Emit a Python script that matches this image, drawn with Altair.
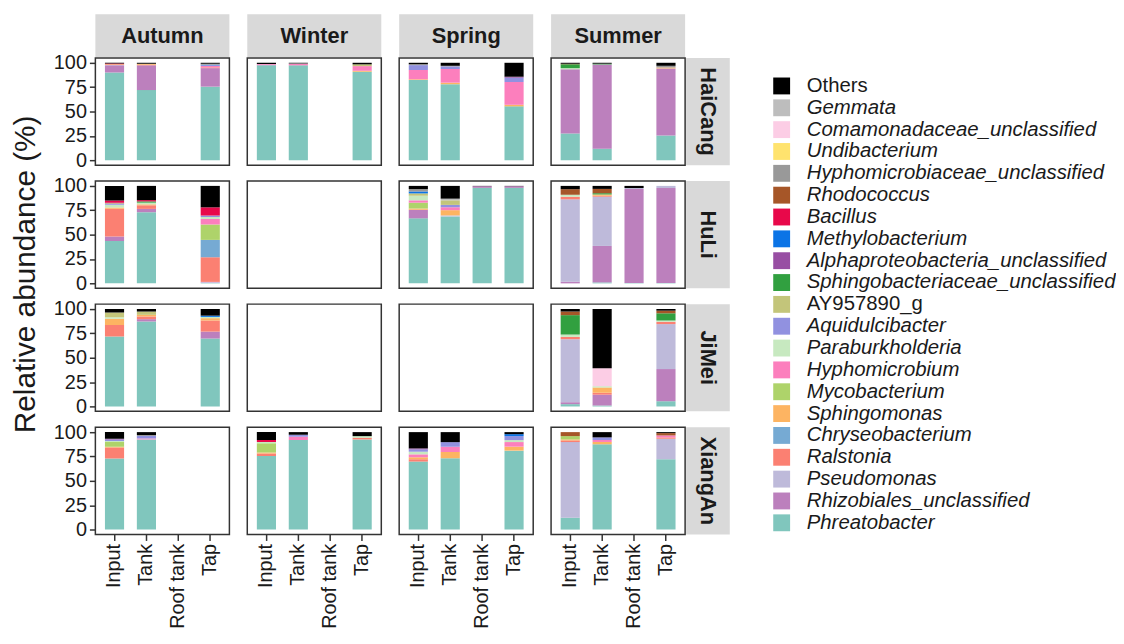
import altair as alt
import pandas as pd

FONT = "Liberation Sans"

# Legend order (top to bottom); stacking goes the other way (Phreatobacter at the bottom)
GENERA = ["Others", "Gemmata", "Comamonadaceae_unclassified", "Undibacterium",
          "Hyphomicrobiaceae_unclassified", "Rhodococcus", "Bacillus", "Methylobacterium",
          "Alphaproteobacteria_unclassified", "Sphingobacteriaceae_unclassified", "AY957890_g",
          "Aquidulcibacter", "Paraburkholderia", "Hyphomicrobium", "Mycobacterium",
          "Sphingomonas", "Chryseobacterium", "Ralstonia", "Pseudomonas",
          "Rhizobiales_unclassified", "Phreatobacter"]
COLORS = ["#000000", "#BDBDBD", "#FCCDE5", "#FFE36E", "#999999", "#A65628", "#E8084A",
          "#0B74E6", "#984EA3", "#31A040", "#C3C57A", "#9191E0", "#C7E9C0", "#FC7FBD",
          "#AED36A", "#FDB462", "#76AAD3", "#FB8072", "#BEBADA", "#BC80BD", "#80C6BD"]
CODES = {"Oth": "Others", "Gem": "Gemmata", "Com": "Comamonadaceae_unclassified",
         "Und": "Undibacterium", "Hyc": "Hyphomicrobiaceae_unclassified", "Rho": "Rhodococcus",
         "Bac": "Bacillus", "Met": "Methylobacterium", "Alp": "Alphaproteobacteria_unclassified",
         "Sph": "Sphingobacteriaceae_unclassified", "AY": "AY957890_g", "Aqu": "Aquidulcibacter",
         "Par": "Paraburkholderia", "Hyp": "Hyphomicrobium", "Myc": "Mycobacterium",
         "Sgm": "Sphingomonas", "Chr": "Chryseobacterium", "Ral": "Ralstonia",
         "Pse": "Pseudomonas", "Rhz": "Rhizobiales_unclassified", "Phr": "Phreatobacter"}
NON_ITALIC = ["Others", "AY957890_g"]

SEASONS = ["Autumn", "Winter", "Spring", "Summer"]
SITES = ["HaiCang", "HuLi", "JiMei", "XiangAn"]
SAMPLES = ["Input", "Tank", "Roof tank", "Tap"]

# Relative abundance (%) per sample
HAICANG_AUTUMN = {
    "Input": {"Phr": 90.0, "Rhz": 7.5, "Pse": 0.3, "Ral": 0.7, "Sgm": 0.3, "Bac": 0.4, "Oth": 0.8},
    "Tank": {"Phr": 72.0, "Rhz": 25.4, "Ral": 0.6, "Sgm": 1.0, "Oth": 1.0},
    "Tap": {"Phr": 75.5, "Rhz": 19.0, "Ral": 0.8, "Hyp": 1.4, "Aqu": 0.8, "Met": 0.5, "Hyc": 1.0, "Oth": 1.0},
}
HAICANG_WINTER = {
    "Input": {"Phr": 97.5, "Rhz": 0.6, "Hyp": 0.7, "Oth": 1.2},
    "Tank": {"Phr": 97.4, "Hyp": 1.5, "Hyc": 0.5, "Oth": 0.6},
    "Tap": {"Phr": 90.8, "Sgm": 1.0, "Hyp": 4.8, "AY": 1.8, "Oth": 1.6},
}
HAICANG_SPRING = {
    "Input": {"Phr": 82.4, "Sgm": 0.7, "Hyp": 9.5, "Aqu": 5.0, "Hyc": 1.0, "Oth": 1.4},
    "Tank": {"Phr": 78.0, "Sgm": 1.6, "Hyp": 14.0, "Aqu": 2.7, "Hyc": 0.6, "Oth": 3.1},
    "Tap": {"Phr": 55.3, "Sgm": 1.6, "Hyp": 23.4, "Aqu": 4.4, "Alp": 1.0, "Oth": 14.3},
}
HAICANG_SUMMER = {
    "Input": {"Phr": 27.5, "Rhz": 65.8, "Par": 1.2, "Sph": 4.0, "Rho": 0.5, "Oth": 1.0},
    "Tank": {"Phr": 11.9, "Rhz": 86.4, "Sph": 0.8, "Oth": 0.9},
    "Tap": {"Phr": 25.4, "Rhz": 68.8, "Sgm": 1.0, "Hyc": 1.7, "Oth": 3.1},
}
HULI_AUTUMN = {
    "Input": {"Phr": 43.4, "Rhz": 4.7, "Ral": 28.5, "Sgm": 1.3, "Par": 2.7, "Aqu": 0.8, "AY": 0.8,
              "Alp": 0.5, "Bac": 2.2, "Oth": 15.1},
    "Tank": {"Phr": 73.0, "Rhz": 3.4, "Ral": 3.7, "Sgm": 1.0, "Par": 1.7, "Sph": 1.3, "Bac": 1.3, "Oth": 14.6},
    "Tap": {"Phr": 0.5, "Rhz": 0.5, "Pse": 0.5, "Ral": 25.3, "Chr": 17.8, "Myc": 15.8, "Hyp": 5.7,
            "Par": 2.0, "Aqu": 1.5, "Bac": 8.4, "Oth": 22.0},
}
HULI_WINTER = {}
HULI_SPRING = {
    "Input": {"Phr": 66.7, "Rhz": 8.8, "Sgm": 1.3, "Myc": 6.0, "Hyp": 2.4, "Par": 4.7, "AY": 2.4,
              "Met": 2.0, "Hyc": 2.4, "Oth": 3.3},
    "Tank": {"Phr": 68.7, "Pse": 1.0, "Sgm": 5.4, "Hyp": 3.0, "Aqu": 2.4, "AY": 4.7, "Gem": 1.7, "Oth": 13.1},
    "Roof tank": {"Phr": 98.0, "Rhz": 1.7, "Oth": 0.3},
    "Tap": {"Phr": 98.0, "Rhz": 1.7, "Oth": 0.3},
}
HULI_SUMMER = {
    "Input": {"Rhz": 1.7, "Pse": 84.5, "Ral": 2.7, "Par": 2.0, "Rho": 5.7, "Oth": 3.4},
    "Tank": {"Phr": 1.0, "Rhz": 37.4, "Pse": 50.5, "Ral": 1.0, "Sgm": 1.3, "Sph": 1.3, "Rho": 4.4, "Oth": 3.1},
    "Roof tank": {"Phr": 0.5, "Rhz": 96.3, "Pse": 1.0, "Oth": 2.2},
    "Tap": {"Phr": 0.5, "Rhz": 97.3, "Pse": 2.2},
}
JIMEI_AUTUMN = {
    "Input": {"Phr": 71.7, "Ral": 11.8, "Sgm": 6.4, "Par": 1.7, "AY": 4.7, "Oth": 3.7},
    "Tank": {"Phr": 87.2, "Rhz": 2.4, "Ral": 2.7, "Sgm": 1.7, "AY": 3.4, "Oth": 2.6},
    "Tap": {"Phr": 69.7, "Rhz": 7.1, "Ral": 11.4, "Sgm": 2.4, "Par": 1.3, "Met": 1.3, "Oth": 6.8},
}
JIMEI_WINTER = {}
JIMEI_SPRING = {}
JIMEI_SUMMER = {
    "Input": {"Phr": 2.4, "Rhz": 2.0, "Pse": 64.6, "Ral": 2.4, "Par": 2.4, "Sph": 19.9, "Rho": 3.7, "Oth": 2.6},
    "Tank": {"Phr": 1.0, "Rhz": 11.1, "Ral": 2.0, "Sgm": 5.4, "Par": 1.3, "Com": 18.5, "Oth": 60.7},
    "Tap": {"Phr": 5.4, "Rhz": 33.0, "Pse": 46.1, "Ral": 2.4, "Par": 1.3, "Sph": 7.4, "Rho": 2.7, "Oth": 1.7},
}
XIANGAN_AUTUMN = {
    "Input": {"Phr": 72.9, "Ral": 11.2, "Sgm": 1.0, "Myc": 4.7, "Par": 1.0, "Aqu": 1.7, "Alp": 0.7, "Oth": 6.8},
    "Tank": {"Phr": 92.5, "Hyp": 1.0, "Aqu": 2.7, "Hyc": 0.7, "Oth": 3.1},
}
XIANGAN_WINTER = {
    "Input": {"Phr": 75.6, "Ral": 2.4, "Sgm": 1.0, "Myc": 9.5, "Par": 1.3, "Bac": 2.0, "Oth": 8.2},
    "Tank": {"Phr": 91.9, "Hyp": 3.4, "Aqu": 2.0, "Oth": 2.7},
    "Tap": {"Phr": 92.5, "Ral": 1.7, "Par": 1.7, "Oth": 4.1},
}
XIANGAN_SPRING = {
    "Input": {"Phr": 69.8, "Ral": 2.4, "Sgm": 2.0, "Hyp": 3.0, "Par": 2.7, "Aqu": 2.4, "Alp": 1.0, "Oth": 16.7},
    "Tank": {"Phr": 73.2, "Sgm": 6.4, "Hyp": 5.4, "Aqu": 4.7, "Oth": 10.3},
    "Tap": {"Phr": 81.0, "Sgm": 4.1, "Hyp": 4.7, "Par": 2.0, "Aqu": 4.1, "Met": 2.0, "Oth": 2.1},
}
XIANGAN_SUMMER = {
    "Input": {"Phr": 12.2, "Pse": 77.6, "Ral": 1.7, "Sgm": 1.0, "Myc": 3.4, "Rho": 4.1},
    "Tank": {"Phr": 87.5, "Sgm": 2.4, "Hyp": 2.0, "Aqu": 2.7, "Oth": 5.4},
    "Tap": {"Phr": 72.2, "Pse": 21.0, "Ral": 1.4, "Hyp": 2.0, "Rho": 2.4, "Oth": 1.0},
}

PANELS = [
    ("HaiCang", "Autumn", HAICANG_AUTUMN), ("HaiCang", "Winter", HAICANG_WINTER),
    ("HaiCang", "Spring", HAICANG_SPRING), ("HaiCang", "Summer", HAICANG_SUMMER),
    ("HuLi", "Autumn", HULI_AUTUMN), ("HuLi", "Winter", HULI_WINTER),
    ("HuLi", "Spring", HULI_SPRING), ("HuLi", "Summer", HULI_SUMMER),
    ("JiMei", "Autumn", JIMEI_AUTUMN), ("JiMei", "Winter", JIMEI_WINTER),
    ("JiMei", "Spring", JIMEI_SPRING), ("JiMei", "Summer", JIMEI_SUMMER),
    ("XiangAn", "Autumn", XIANGAN_AUTUMN), ("XiangAn", "Winter", XIANGAN_WINTER),
    ("XiangAn", "Spring", XIANGAN_SPRING), ("XiangAn", "Summer", XIANGAN_SUMMER),
]

rows = []
for site, season, panel in PANELS:
    if not panel:  # empty panel: keep the facet cell with a zero-height bar
        rows.append(dict(site=site, season=season, sample="Input", genus="Phreatobacter", value=0.0))
    for sample, comp in panel.items():
        for code, v in comp.items():
            rows.append(dict(site=site, season=season, sample=sample, genus=CODES[code], value=v))
df = pd.DataFrame(rows)
df["stack_idx"] = df["genus"].map(lambda g: len(GENERA) - 1 - GENERA.index(g))

W, H = 135, 108
STRIP = "#D9D9D9"
TXT = "#1A1A1A"

italic_expr = "indexof(" + str(NON_ITALIC) + ", datum.label) >= 0 ? 'normal' : 'italic'"

bars = alt.Chart().mark_bar().encode(
    x=alt.X("sample:N", sort=SAMPLES,
            scale=alt.Scale(domain=SAMPLES, paddingInner=0.4, paddingOuter=0.3),
            axis=alt.Axis(title=None, labelAngle=270, labelAlign="right", labelBaseline="middle")),
    y=alt.Y("value:Q", stack="zero",
            scale=alt.Scale(domain=[-5, 105], nice=False, zero=False),
            axis=alt.Axis(title=None, values=[0, 25, 50, 75, 100], grid=False)),
    color=alt.Color("genus:N", scale=alt.Scale(domain=GENERA, range=COLORS),
                    legend=alt.Legend(title=None, orient="none", legendX=681, legendY=18, padding=0,
                                      symbolType="square", symbolSize=289, symbolStrokeWidth=0,
                                      labelFont=FONT, labelFontSize=20.5, labelColor=TXT,
                                      labelFontStyle={"expr": italic_expr},
                                      labelOffset=15, rowPadding=1.0, symbolLimit=0, labelLimit=500)),
    order=alt.Order("stack_idx:Q", sort="ascending"),
)

top_rect = alt.Chart().transform_filter(alt.datum.site == SITES[0]).transform_aggregate(
    n="count()", groupby=["site", "season"]
).mark_rect(color=STRIP).encode(x=alt.value(0), x2=alt.value(W), y=alt.value(-44), y2=alt.value(-1))

top_text = alt.Chart().transform_filter(alt.datum.site == SITES[0]).transform_aggregate(
    n="count()", groupby=["site", "season"]
).mark_text(font=FONT, fontSize=22, fontWeight="bold", color=TXT).encode(
    text="season:N", x=alt.value(W / 2), y=alt.value(-22))

right_rect = alt.Chart().transform_filter(alt.datum.season == SEASONS[-1]).transform_aggregate(
    n="count()", groupby=["site", "season"]
).mark_rect(color=STRIP).encode(x=alt.value(W + 1), x2=alt.value(W + 45), y=alt.value(0), y2=alt.value(H))

right_text = alt.Chart().transform_filter(alt.datum.season == SEASONS[-1]).transform_aggregate(
    n="count()", groupby=["site", "season"]
).mark_text(font=FONT, fontSize=22, fontWeight="bold", color=TXT, angle=90).encode(
    text="site:N", x=alt.value(W + 23), y=alt.value(H / 2))

layered = alt.layer(bars, top_rect, top_text, right_rect, right_text, data=df).properties(width=W, height=H)

chart = layered.facet(
    row=alt.Row("site:N", sort=SITES,
                header=alt.Header(labels=False, title="Relative abundance (%)", titleOrient="left",
                                  titleFont=FONT, titleFontSize=30, titleFontWeight="normal",
                                  titleColor=TXT, titlePadding=2)),
    column=alt.Column("season:N", sort=SEASONS, header=alt.Header(labels=False, title=None)),
    spacing={"row": 16, "column": 18},
).properties(
    bounds="flush", padding={"left": 2, "top": 3, "right": 0, "bottom": 5}
).configure_view(
    stroke="#333333", strokeWidth=1.5
).configure_axis(
    labelFont=FONT, labelFontSize=20, labelColor=TXT, tickColor="#333333", tickWidth=1.5,
    tickSize=6, domain=False, labelPadding=3
)

chart.save("out.html", embed_options={"renderer": "svg", "actions": False})
